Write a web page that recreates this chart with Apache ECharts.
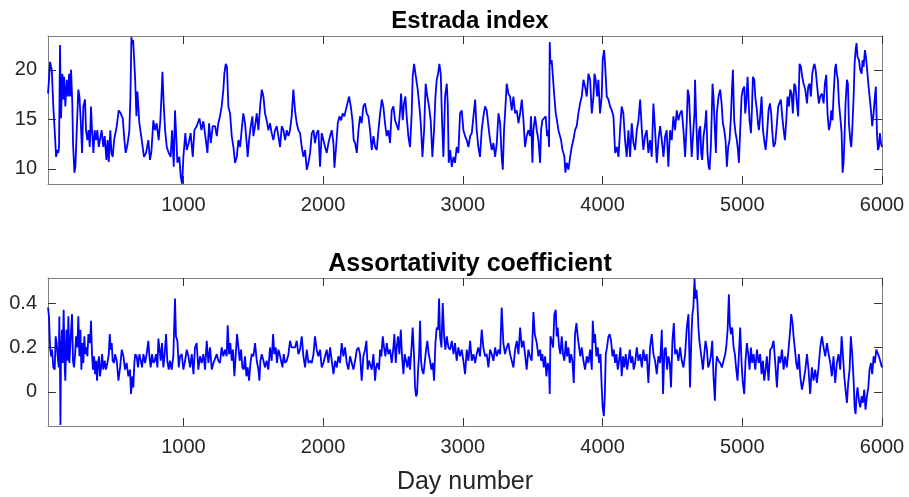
<!DOCTYPE html>
<html><head><meta charset="utf-8">
<script src="https://cdn.jsdelivr.net/npm/echarts@6/dist/echarts.min.js"></script>
<style>html,body{margin:0;padding:0;background:#fff}#c{width:909px;height:497px}</style>
</head><body><div id="c"></div>
<script>
const titles = ['Estrada index', 'Assortativity coefficient'];
const xLabel = 'Day number';
const xTicks = [1000, 2000, 3000, 4000, 5000, 6000];
const estradaTicks = [10, 15, 20];
const assortTicks = [0, 0.2, 0.4];
const dayRange = [31, 6000];
const estradaRange = [8.46, 23.42];
const assortRange = [-0.154, 0.513];

const estradaDays = [31,38,46,53,58,69,81,89,98,105,110,117,124,134,141,146,155,165,174,182,189,196,205,210,220,227,236,248,256,265,275,284,296,303,313,322,330,339,346,356,365,375,384,394,415,427,437,449,458,466,477,485,494,504,523,537,551,566,578,587,599,613,621,628,635,640,644,654,664,671,685,702,718,733,749,761,771,785,797,809,823,835,843,850,859,869,881,895,909,919,931,940,950,957,971,981,990,995,1000,1014,1024,1038,1052,1067,1079,1095,1115,1129,1143,1157,1172,1184,1196,1210,
1227,1239,1250,1262,1274,1286,1293,1303,1312,1322,1334,1346,1358,1370,1382,1394,1406,1417,1429,1441,1453,1460,1470,1482,1494,1501,1513,1525,1537,1549,1561,1573,1584,1596,1608,1620,1632,1644,1656,1668,1680,1692,1704,1716,1728,1740,1752,1763,1775,1787,1799,1811,1823,1835,1847,1859,1871,1883,1895,1907,1919,1931,1942,1954,1966,1978,1990,2002,2014,2026,2038,2050,2062,2074,2081,2093,2105,2117,2129,2140,2152,2162,2176,2186,2198,2210,2219,2229,2241,2253,2264,2276,2288,2300,2312,2324,
2336,2348,2360,2372,2384,2396,2408,2420,2431,2443,2455,2467,2479,2491,2503,2515,2527,2539,2551,2558,2570,2579,2589,2598,2610,2622,2634,2641,2651,2665,2677,2689,2699,2711,2723,2734,2746,2758,2770,2782,2794,2804,2813,2823,2832,2842,2851,2861,2873,2885,2892,2899,2909,2921,2933,2944,2956,2968,2980,2992,3004,3016,3028,3040,3052,3064,3076,3088,3099,3111,3123,3135,3147,3159,3171,3183,3195,3207,3219,3231,3243,3255,3267,3278,3286,3295,3305,3314,3326,3338,3350,3362,3374,3386,3398,3410,3422,3434,3445,3457,3469,3481,3488,3498,3505,3517,
3529,3541,3553,3560,3569,3581,3593,3603,3612,3617,3622,3627,3636,3646,3655,3665,3674,3684,3696,3703,3713,3720,3727,3734,3744,3756,3768,3779,3791,3803,3815,3827,3839,3851,3863,3875,3887,3899,3911,3923,3935,3942,3951,3961,3970,3982,3994,4001,4011,4018,4030,4042,4054,4066,4078,4090,4102,4114,4125,4137,4149,4161,4173,4185,4197,4209,4221,4233,4245,4257,4269,4281,4292,4304,4316,4328,4340,4352,4364,4376,4388,4400,4412,4424,4436,4448,4459,4471,4483,4495,4507,4519,4531,4543,4555,4567,4579,4591,4603,4610,4619,4626,4638,4650,4658,4662,4672,4681,4691,
4699,4706,4713,4723,4735,4742,4751,4759,4766,4775,4783,4787,4794,4804,4811,4818,4830,4842,4852,4861,4871,4880,4890,4899,4909,4919,4926,4933,4942,4952,4961,4969,4976,4985,4995,5004,5014,5021,5028,5038,5045,5052,5062,5069,5076,5086,5093,5105,5112,5119,5128,5138,5148,5157,5167,5176,5188,5198,5207,5214,5224,5236,5248,5257,5267,5276,5286,5296,5305,5315,5324,5334,5343,5353,5362,5372,5381,5391,5400,5410,5420,5429,5439,5451,5463,5472,5482,5491,5501,5510,5517,5525,5534,5541,5548,5558,5570,5582,5591,5601,5610,5620,5630,5637,5646,5653,5663,5670,5677,5684,5692,5701,5711,5718,5725,5732,5739,5749,5756,5763,5773,5780,5787,5797,5804,5811,5818,5825,5835,5844,5854,5861,5868,5878,5885,5892,5902,5911,5921,5930,5940,5949,5956,5964,5971,5978,5985,5992,6000];
const estradaValues = [17.6,19.0,20.8,20.3,20.0,16.3,13.3,11.2,11.9,11.6,12.2,22.5,15.1,19.6,17.0,19.3,16.3,19.0,17.3,19.6,17.3,20.0,16.6,12.6,9.6,10.2,13.6,18.0,17.3,14.9,11.6,16.3,17.0,13.9,12.9,13.9,12.2,16.3,13.9,11.6,13.9,12.9,13.9,12.2,13.9,12.2,13.3,10.9,12.9,10.7,13.9,11.6,11.2,12.9,14.3,15.9,15.6,15.1,12.9,11.6,12.4,13.8,17.3,23.3,22.6,23.0,22.0,19.3,15.3,17.8,14.6,12.9,11.2,11.6,12.9,10.9,11.7,14.9,13.9,14.6,12.9,14.9,17.3,19.8,16.6,13.9,12.2,11.6,11.2,13.9,10.2,15.9,12.9,10.6,11.2,9.2,8.5,9.6,11.2,13.6,11.9,12.6,13.6,11.2,13.9,14.3,15.1,13.9,14.8,13.3,11.6,14.6,12.6,14.3,
14.3,13.3,14.6,15.3,16.3,18.0,19.6,20.6,20.3,16.3,15.6,13.3,12.2,10.6,11.2,12.9,12.2,13.9,15.6,14.6,12.6,11.2,12.9,14.3,15.3,13.3,14.3,15.6,13.9,16.3,18.0,17.3,15.6,14.9,13.9,14.6,13.6,12.9,13.9,14.3,13.3,12.2,14.3,13.9,12.9,13.9,13.3,13.9,15.3,18.0,15.9,14.6,13.9,13.6,12.2,11.2,11.9,9.9,10.6,11.6,13.6,13.9,12.6,13.6,13.9,10.2,13.6,12.9,12.2,11.6,12.6,13.3,13.9,12.6,10.1,12.2,14.6,15.3,14.9,15.6,15.3,15.9,15.9,17.3,16.3,14.9,12.9,12.6,11.6,13.9,15.3,14.6,16.3,16.6,15.6,15.3,
13.9,11.9,13.3,12.2,11.9,13.9,15.6,17.0,16.3,14.6,13.3,13.9,12.6,15.9,16.3,14.9,14.9,13.9,15.9,17.6,14.9,16.6,17.3,15.3,13.3,12.2,15.6,19.3,20.6,20.6,18.0,16.3,14.6,11.2,13.9,18.6,17.3,16.3,14.9,11.2,13.9,17.3,19.0,19.6,20.6,19.6,14.9,11.2,17.3,18.6,16.6,10.6,11.9,10.2,11.2,10.6,12.2,11.6,15.6,15.9,13.9,13.3,12.9,12.2,13.3,13.6,15.3,17.0,13.9,12.2,11.2,13.9,15.3,16.3,15.9,14.3,12.9,11.9,12.6,11.2,12.6,15.6,14.6,11.2,9.9,13.9,16.3,18.6,17.6,17.3,15.9,17.3,15.6,15.9,14.6,15.6,17.0,14.9,12.2,13.3,13.9,13.3,15.3,10.6,13.9,15.3,
13.9,12.9,10.6,13.9,14.9,14.9,15.3,13.3,13.9,12.2,22.8,20.6,21.0,19.0,17.3,15.6,14.9,13.9,13.9,12.9,11.9,11.6,11.2,9.6,10.6,9.9,11.2,12.2,12.9,13.9,14.3,15.6,16.6,17.3,19.0,18.3,17.3,19.6,19.0,15.6,17.3,19.6,19.0,17.3,19.0,15.6,17.3,21.0,22.0,20.6,17.3,17.0,16.3,15.9,15.3,11.6,12.2,11.2,13.9,16.3,15.6,12.9,11.2,13.9,11.2,14.6,12.6,11.9,13.9,14.9,17.0,13.9,11.9,13.3,13.9,11.6,12.9,11.2,16.6,13.9,10.6,12.9,14.3,12.9,11.2,13.3,13.9,10.2,13.9,12.9,15.3,13.9,15.9,14.9,15.6,15.9,13.9,11.2,14.9,18.0,17.3,14.9,11.2,13.9,15.6,19.0,14.3,10.9,13.9,
14.3,11.6,10.9,13.3,14.6,15.9,11.6,10.2,9.9,12.2,16.3,18.6,17.3,13.9,11.6,15.6,17.3,18.0,16.6,14.6,13.9,12.9,10.2,12.2,12.9,15.3,18.0,20.0,14.9,13.6,12.9,11.9,10.6,13.9,17.3,18.0,18.3,15.6,16.6,19.3,17.0,14.9,13.6,15.9,19.3,19.0,17.3,15.9,14.6,13.9,15.3,17.3,13.9,12.9,11.9,13.3,15.9,16.6,15.6,13.9,12.2,12.6,14.6,16.3,16.3,17.0,15.3,13.9,12.9,14.9,17.3,16.3,18.0,17.6,15.6,18.6,18.3,16.6,15.3,20.6,20.3,19.3,18.6,18.0,16.6,18.3,18.6,17.3,19.6,20.3,20.6,20.0,18.6,17.6,16.6,17.3,17.6,16.6,18.6,19.5,15.6,13.9,14.6,15.9,14.9,17.3,20.0,20.6,19.6,19.0,16.6,15.3,13.6,9.6,10.6,13.3,16.6,19.0,18.6,14.6,12.9,12.2,13.9,17.3,20.6,22.0,22.7,21.3,21.0,20.0,19.6,21.0,20.3,22.0,21.3,20.3,18.6,17.3,15.9,14.3,15.6,17.3,18.3,13.6,11.9,12.2,13.6,12.6,12.2];

const assortDays = [31,38,46,53,60,69,79,86,93,100,108,112,117,120,124,131,136,143,151,155,163,170,177,184,194,203,210,217,225,232,241,248,256,263,270,277,284,291,298,306,313,320,332,339,346,353,361,368,375,382,389,396,403,411,418,427,437,446,456,466,473,480,487,494,504,511,523,535,547,559,571,582,594,606,618,625,635,642,649,656,666,675,685,695,704,714,726,737,749,757,766,776,785,795,804,814,821,828,838,847,857,866,876,885,895,905,916,928,940,947,957,967,976,988,1000,1012,1024,1036,1048,1060,1072,1083,1095,1107,1119,1131,1143,1155,1167,1179,1191,1203,1215,
1227,1239,1250,1262,1274,1286,1298,1310,1317,1327,1336,1346,1355,1365,1375,1384,1394,1403,1413,1422,1432,1441,1451,1460,1470,1480,1489,1501,1513,1525,1537,1544,1551,1561,1573,1584,1596,1608,1620,1632,1642,1651,1661,1670,1680,1689,1699,1709,1718,1728,1740,1752,1763,1775,1787,1799,1811,1823,1835,1847,1859,1871,1883,1895,1907,1919,1931,1942,1954,1966,1978,1990,2002,2014,2026,2038,2050,2062,2074,2086,2098,2109,2121,2133,2145,2157,2169,2181,2193,2205,2217,2229,2241,2253,2264,2276,2288,2300,2310,2319,2329,
2336,2348,2360,2372,2379,2388,2400,2408,2417,2427,2436,2446,2455,2467,2479,2491,2503,2510,2520,2527,2536,2546,2556,2565,2575,2584,2594,2603,2613,2622,2632,2641,2651,2658,2665,2672,2680,2687,2694,2701,2708,2718,2727,2737,2746,2756,2765,2775,2785,2794,2804,2813,2823,2830,2837,2847,2856,2866,2875,2885,2897,2909,2921,2933,2944,2956,2968,2980,2992,3004,3016,3028,3040,3052,3064,3076,3088,3099,3111,3123,3135,3147,3159,3171,3183,3195,3207,3219,3231,3243,3255,3267,3278,3290,3302,3314,3326,3338,3350,3362,3374,3386,3398,3410,3422,3434,3445,3457,3469,3481,3493,3505,3515,
3529,3541,3553,3560,3569,3579,3589,3598,3608,3617,3622,3627,3636,3646,3655,3665,3672,3679,3689,3698,3708,3717,3727,3737,3746,3756,3765,3775,3784,3794,3803,3813,3822,3832,3841,3851,3863,3875,3887,3899,3911,3923,3930,3939,3946,3956,3966,3975,3985,3994,4001,4009,4016,4023,4032,4042,4051,4061,4071,4080,4090,4099,4109,4118,4128,4137,4147,4156,4166,4176,4185,4195,4204,4214,4223,4233,4245,4257,4269,4281,4292,4304,4316,4328,4340,4352,4364,4376,4388,4400,4412,4424,4433,4443,4452,4462,4471,4481,4490,4500,4510,4519,4531,4543,4555,4567,4579,4591,4603,4615,4626,4636,4643,4650,4658,4665,4672,4679,4686,4693,
4699,4711,4718,4728,4737,4747,4756,4766,4775,4785,4794,4804,4811,4818,4830,4842,4854,4866,4878,4885,4895,4904,4911,4919,4928,4938,4947,4957,4966,4976,4985,4995,5004,5014,5023,5033,5043,5052,5062,5071,5081,5093,5105,5117,5128,5138,5148,5157,5167,5176,5188,5200,5212,5224,5236,5248,5260,5272,5284,5296,5307,5319,5331,5343,5350,5360,5367,5377,5386,5396,5405,5415,5427,5439,5451,5463,5474,5486,5498,5510,5522,5534,5546,5558,5570,5582,5594,5606,5618,5630,5641,5653,5665,5677,5689,5701,5711,5720,5730,5739,5749,5758,5768,5777,5787,5797,5804,5811,5818,5825,5835,5844,5854,5863,5873,5882,5892,5902,5911,5921,5930,5940,5949,5959,5968,5978,5987,6000];
const assortValues = [0.38,0.34,0.20,0.16,0.19,0.11,0.10,0.25,0.22,0.16,0.11,0.34,0.10,-0.15,0.17,0.28,0.13,0.37,0.10,0.05,0.28,0.14,0.34,0.13,0.25,0.35,0.14,0.11,0.17,0.25,0.20,0.34,0.16,0.28,0.10,0.22,0.13,0.25,0.17,0.20,0.16,0.26,0.22,0.32,0.17,0.10,0.16,0.08,0.14,0.05,0.13,0.16,0.07,0.11,0.17,0.10,0.14,0.10,0.13,0.17,0.26,0.19,0.22,0.14,0.13,0.17,0.14,0.05,0.11,0.19,0.16,0.10,0.13,0.07,0.10,-0.01,0.07,0.02,0.13,0.17,0.16,0.11,0.17,0.14,0.11,0.17,0.13,0.17,0.23,0.16,0.11,0.17,0.13,0.14,0.17,0.11,0.24,0.20,0.14,0.22,0.11,0.17,0.26,0.14,0.10,0.14,0.10,0.16,0.42,0.25,0.23,0.11,0.16,0.17,0.10,0.14,0.19,0.16,0.11,0.17,0.08,0.20,0.22,0.10,0.16,0.13,0.17,0.10,0.23,0.13,0.20,0.10,0.13,
0.13,0.17,0.14,0.13,0.20,0.16,0.19,0.16,0.30,0.17,0.22,0.14,0.19,0.07,0.17,0.26,0.20,0.14,0.19,0.11,0.10,0.16,0.07,0.11,0.05,0.13,0.17,0.16,0.22,0.14,0.10,0.05,0.14,0.17,0.14,0.11,0.14,0.10,0.20,0.14,0.26,0.17,0.20,0.13,0.19,0.17,0.14,0.11,0.17,0.13,0.14,0.17,0.23,0.20,0.20,0.20,0.23,0.17,0.19,0.25,0.16,0.11,0.19,0.13,0.14,0.13,0.17,0.25,0.19,0.16,0.19,0.11,0.13,0.16,0.19,0.13,0.20,0.14,0.08,0.14,0.11,0.16,0.13,0.22,0.16,0.20,0.13,0.10,0.16,0.13,0.10,0.14,0.19,0.20,0.17,0.05,0.16,0.19,0.23,0.10,0.14,
0.14,0.10,0.17,0.05,0.11,0.13,0.10,0.19,0.16,0.25,0.20,0.16,0.22,0.17,0.19,0.13,0.20,0.26,0.13,0.20,0.25,0.17,0.28,0.16,0.08,0.17,0.14,0.11,0.16,0.10,0.19,0.29,0.16,0.02,-0.02,-0.01,0.10,0.17,0.32,0.14,0.10,0.08,0.13,0.19,0.23,0.17,0.14,0.10,0.13,0.05,0.22,0.29,0.28,0.42,0.25,0.20,0.40,0.25,0.19,0.25,0.20,0.19,0.23,0.17,0.22,0.14,0.20,0.16,0.19,0.14,0.08,0.19,0.14,0.23,0.14,0.17,0.13,0.17,0.20,0.16,0.28,0.20,0.16,0.17,0.11,0.19,0.17,0.14,0.20,0.16,0.19,0.17,0.38,0.22,0.17,0.20,0.22,0.17,0.14,0.11,0.19,0.23,0.17,0.29,0.20,0.23,0.17,0.10,0.19,0.16,0.14,0.36,0.26,
0.22,0.16,0.19,0.14,0.17,0.11,0.16,0.07,0.13,0.10,-0.01,0.25,0.23,0.20,0.35,0.37,0.25,0.29,0.20,0.17,0.25,0.17,0.14,0.23,0.16,0.20,0.13,0.17,0.14,0.04,0.26,0.31,0.25,0.20,0.16,0.20,0.14,0.10,0.16,0.13,0.19,0.10,0.32,0.22,0.26,0.16,0.20,0.13,0.17,0.02,-0.07,-0.11,-0.02,0.17,0.20,0.25,0.26,0.23,0.16,0.19,0.13,0.17,0.10,0.14,0.20,0.07,0.16,0.11,0.17,0.10,0.14,0.19,0.13,0.16,0.10,0.13,0.20,0.14,0.17,0.11,0.19,0.14,0.17,0.04,0.20,0.26,0.17,0.14,0.08,0.16,0.13,0.28,-0.01,0.19,0.20,0.10,0.16,0.13,0.02,0.23,0.31,0.17,0.19,0.14,0.20,0.14,0.11,0.17,0.29,0.35,0.02,0.25,0.35,0.38,0.51,0.42,0.46,0.40,0.29,0.23,
0.20,0.14,0.10,0.17,0.23,0.19,0.11,0.13,0.16,0.23,0.07,-0.04,0.10,0.16,0.14,0.13,0.11,0.14,0.17,0.20,0.28,0.44,0.30,0.26,0.29,0.20,0.17,0.10,0.05,0.17,0.29,0.13,0.04,-0.01,0.14,0.22,0.17,0.10,0.20,0.13,0.17,0.10,0.19,0.13,0.17,0.08,0.14,0.05,0.10,0.16,0.05,0.19,0.20,0.23,0.13,0.02,0.16,0.13,0.19,0.10,0.16,0.11,0.19,0.28,0.35,0.31,0.25,0.19,0.13,0.10,0.17,0.07,0.01,0.05,0.10,0.17,0.10,-0.01,0.11,0.05,0.10,0.04,0.11,0.20,0.25,0.20,0.16,0.22,0.17,0.13,0.07,0.16,0.04,0.13,0.17,0.10,0.25,0.17,0.07,0.01,-0.05,0.04,0.10,0.25,0.17,0.05,-0.07,-0.10,-0.02,0.02,-0.04,-0.07,-0.02,-0.05,0.01,-0.08,-0.02,0.02,0.10,0.13,0.08,0.16,0.13,0.19,0.19,0.16,0.14,0.11];

const pair = (xs, ys) => xs.map((x, i) => [x, ys[i]]);

const FONT = '"Liberation Sans", Arial, Helvetica, sans-serif';
const AX = '#808080';
const TICK = '#333333';
const TXT = '#262626';
const L = 48, R = 27;

function xAx(gi, main) {
  return {
    type: 'value', gridIndex: gi, min: dayRange[0], max: dayRange[1],
    position: main ? 'bottom' : 'top',
    axisLine: { show: true, onZero: false, lineStyle: { color: AX, width: 1 } },
    axisTick: { show: true, inside: true, length: 8, customValues: xTicks, lineStyle: { color: TICK } },
    axisLabel: { show: main, customValues: xTicks, margin: 11, fontSize: 20, color: TXT, fontFamily: FONT,
      formatter: v => String(v) },
    splitLine: { show: false },
    name: (main && gi === 1) ? xLabel : '',
    nameLocation: 'middle', nameGap: 44,
    nameTextStyle: { fontSize: 25, color: TXT, fontFamily: FONT }
  };
}
function yAx(gi, main, range, ticks) {
  return {
    type: 'value', gridIndex: gi, min: range[0], max: range[1],
    position: main ? 'left' : 'right',
    axisLine: { show: true, onZero: false, lineStyle: { color: AX, width: 1 } },
    axisTick: { show: true, inside: true, length: 8, customValues: ticks, lineStyle: { color: TICK } },
    axisLabel: { show: main, customValues: ticks, margin: 11, fontSize: 20, color: TXT, fontFamily: FONT,
      formatter: v => String(v) },
    splitLine: { show: false }
  };
}

const chart = echarts.init(document.getElementById('c'), null, { renderer: 'canvas' });
chart.setOption({
  animation: false,
  backgroundColor: '#ffffff',
  title: [
    { text: titles[0], left: 465, top: 4, textAlign: 'center',
      textStyle: { fontSize: 24, fontWeight: 'bold', color: '#000', fontFamily: FONT } },
    { text: titles[1], left: 465, top: 247, textAlign: 'center',
      textStyle: { fontSize: 25, fontWeight: 'bold', color: '#000', fontFamily: FONT } }
  ],
  grid: [
    { left: L, right: R, top: 36, height: 148 },
    { left: L, right: R, top: 278, height: 148 }
  ],
  xAxis: [xAx(0, true), xAx(1, true), xAx(0, false), xAx(1, false)],
  yAxis: [
    yAx(0, true, estradaRange, estradaTicks), yAx(1, true, assortRange, assortTicks),
    yAx(0, false, estradaRange, estradaTicks), yAx(1, false, assortRange, assortTicks)
  ],
  series: [
    { type: 'line', xAxisIndex: 0, yAxisIndex: 0, data: pair(estradaDays, estradaValues),
      showSymbol: false, symbol: 'none', lineStyle: { color: '#0000ff', width: 1.8 }, itemStyle: { color: '#0000ff' } },
    { type: 'line', xAxisIndex: 1, yAxisIndex: 1, data: pair(assortDays, assortValues),
      showSymbol: false, symbol: 'none', lineStyle: { color: '#0000ff', width: 1.8 }, itemStyle: { color: '#0000ff' } }
  ]
});
</script>
</body></html>
